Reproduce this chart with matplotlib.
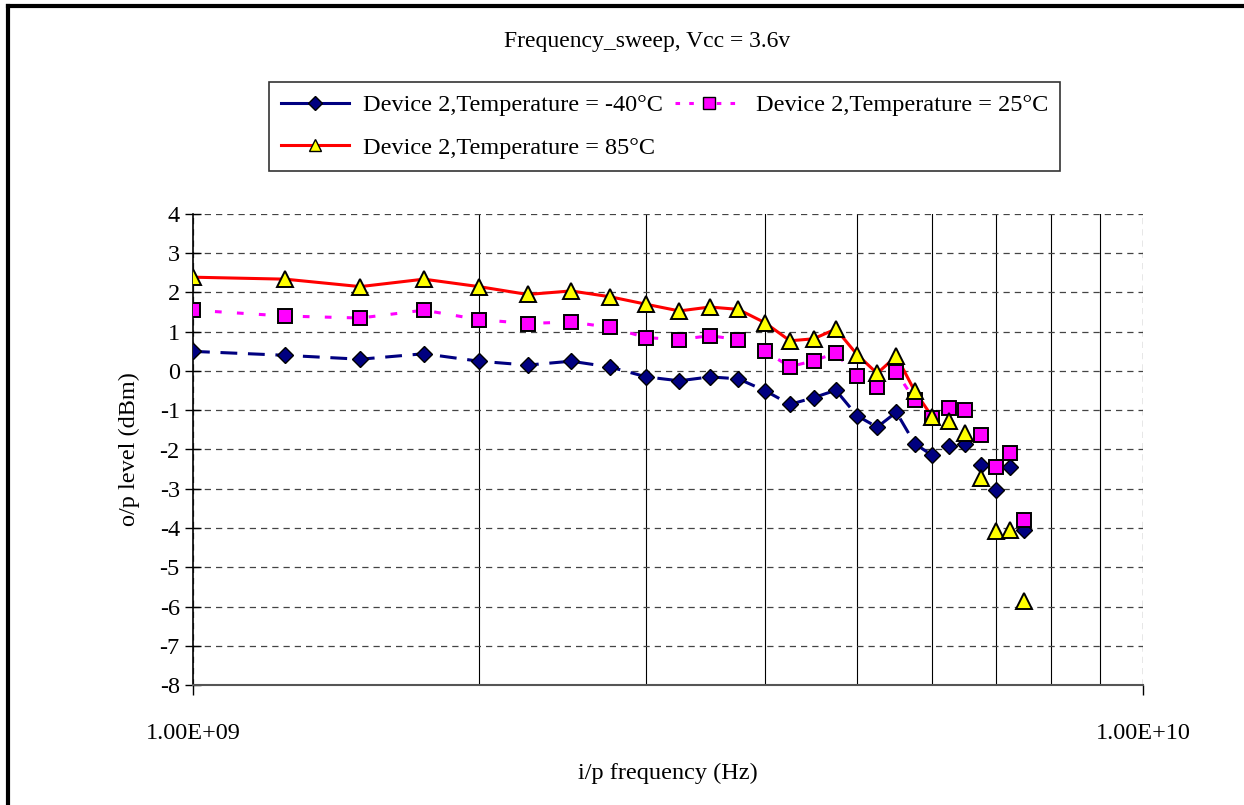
import matplotlib.pyplot as plt
import numpy as np
from matplotlib.lines import Line2D
from matplotlib.ticker import FixedLocator, FuncFormatter, NullFormatter

plt.rcParams['font.family'] = ['Liberation Serif', 'DejaVu Serif']
plt.rcParams['axes.unicode_minus'] = False

# frequence en GHz
freq = [1.0, 1.25, 1.5, 1.75, 2.0, 2.25, 2.5, 2.75, 3.0, 3.25, 3.5, 3.75, 4.0,
        4.25, 4.5, 4.75, 5.0, 5.25, 5.5, 5.75, 6.0, 6.25, 6.5, 6.75, 7.0, 7.25, 7.5]

# o/p level (dBm)
t_m40 = [0.50, 0.40, 0.30, 0.44, 0.25, 0.15, 0.25, 0.10, -0.15, -0.25, -0.15, -0.20, -0.50,
         -0.85, -0.68, -0.49, -1.14, -1.43, -1.05, -1.85, -2.15, -1.91, -1.85, -2.39, -3.04, -2.44, -4.06]
t_25 = [1.55, 1.40, 1.35, 1.55, 1.31, 1.21, 1.25, 1.11, 0.85, 0.80, 0.90, 0.80, 0.50,
        0.11, 0.26, 0.46, -0.14, -0.40, -0.03, -0.74, -1.19, -0.95, -1.00, -1.64, -2.44, -2.10, -3.79]
t_85 = [2.39, 2.34, 2.15, 2.34, 2.15, 1.95, 2.04, 1.89, 1.70, 1.53, 1.63, 1.57, 1.23,
        0.77, 0.82, 1.07, 0.42, -0.06, 0.38, -0.51, -1.17, -1.27, -1.58, -2.72, -4.08, -4.04, -5.86]

n_line = 21  # les courbes s'arretent a 6 GHz, apres seulement les points

f = np.array(freq) * 1e9
fs = 17.5

fig = plt.figure(figsize=(12.44, 8.05), dpi=100)
ax = fig.add_axes([193/1244, 120/805, 950/1244, 471/805])

ax.plot(f[:n_line], t_m40[:n_line], color='#000080', lw=2.2, dashes=(5.5, 3.5), zorder=3)
ax.plot(f[:n_line], t_25[:n_line], color='#FF00FF', lw=2.2, dashes=(2.2, 5), zorder=3)
ax.plot(f[:n_line], t_85[:n_line], color='red', lw=2.2, zorder=3)

ax.plot(f, t_m40, ls='none', marker='D', ms=8, mfc='#000080', mec='black', mew=1, zorder=4)
ax.plot(f, t_25, ls='none', marker='s', ms=10, mfc='#FF00FF', mec='black', mew=1.4, zorder=4)
ax.plot(f, t_85, ls='none', marker='^', ms=11, mfc='yellow', mec='black', mew=1.4, zorder=4)

ax.set_xscale('log')
ax.set_xlim(1e9, 1e10)
ax.set_ylim(-8, 4)
ax.set_yticks(np.arange(-8, 5, 1))
ax.xaxis.set_major_locator(FixedLocator([1e9, 1e10]))
ax.xaxis.set_major_formatter(FuncFormatter(lambda v, p: '%.2E' % v))
ax.xaxis.set_minor_locator(FixedLocator(np.arange(2, 10) * 1e9))
ax.xaxis.set_minor_formatter(NullFormatter())

ax.grid(axis='y', which='major', color='#444444', ls=(0, (5, 4)), lw=0.9)
ax.grid(axis='x', which='major', color='#444444', ls=(0, (5, 4)), lw=0.9)
ax.grid(axis='x', which='minor', color='black', ls='-', lw=0.8)

for s in ['top', 'right']:
    ax.spines[s].set_visible(False)
ax.spines['left'].set_linewidth(1.2)
ax.spines['bottom'].set_color('#555555')
ax.spines['bottom'].set_linewidth(1.5)

ax.tick_params(axis='y', direction='inout', length=11, width=1, labelsize=fs, pad=4)
ax.tick_params(axis='x', which='major', direction='out', length=7, width=1, labelsize=fs, pad=20)
ax.tick_params(axis='x', which='minor', length=0)

ax.set_xlabel('i/p frequency (Hz)', fontsize=fs, labelpad=14)
ax.set_ylabel('o/p level (dBm)', fontsize=fs, labelpad=14)
fig.text(647/1244, 1 - 41/805, 'Frequency_sweep, Vcc = 3.6v', ha='center', va='center', fontsize=17)

h1 = Line2D([], [], color='#000080', lw=2.2, marker='D', ms=7, mfc='#000080', mec='black')
h2 = Line2D([], [], color='#FF00FF', lw=2.2, dashes=(1.5, 3), marker='s', ms=8, mfc='#FF00FF', mec='black')
h3 = Line2D([], [], color='red', lw=2.2, marker='^', ms=8, mfc='yellow', mec='black')
leg = fig.legend([h1, h3, h2],
                 ['Device 2,Temperature = -40°C', 'Device 2,Temperature = 85°C',
                  'Device 2,Temperature = 25°C'],
                 ncol=2, loc='upper left', bbox_to_anchor=(269/1244, 1 - 82/805),
                 bbox_transform=fig.transFigure, fontsize=fs, fancybox=False,
                 edgecolor='black', handlelength=2.8, handletextpad=0.55,
                 columnspacing=0.5, borderpad=0.5, labelspacing=0.85, borderaxespad=0)
leg.get_frame().set_linewidth(1.2)

# cadre autour du graphique
fig.add_artist(Line2D([8/1244, 1.0], [1 - 6/805, 1 - 6/805], color='black', lw=3, transform=fig.transFigure))
fig.add_artist(Line2D([8/1244, 8/1244], [0, 1 - 6/805], color='black', lw=3, transform=fig.transFigure))

plt.savefig('out.png', dpi=100)
